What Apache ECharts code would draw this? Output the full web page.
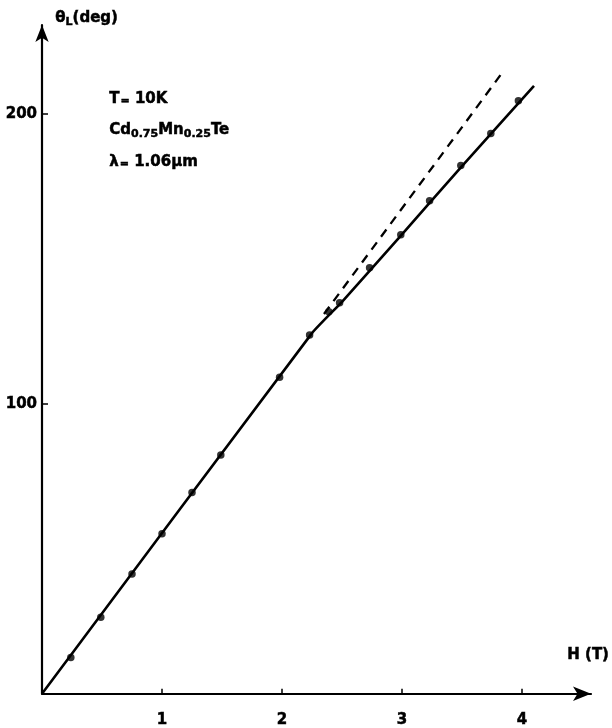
<!DOCTYPE html>
<html>
<head>
<meta charset="utf-8">
<script src="https://cdn.jsdelivr.net/npm/echarts@6/dist/echarts.min.js"></script>
<style>
html,body{margin:0;padding:0;background:#fff;}
#c{width:612px;height:728px;}
</style>
</head>
<body>
<div id="c"></div>
<script>
// Measured points: magnetic field H (T) and Faraday rotation theta_L (deg)
const fieldH = [0.24, 0.49, 0.75, 1.0, 1.25, 1.49, 1.98, 2.23, 2.39, 2.48, 2.73, 2.99, 3.23, 3.49, 3.74, 3.97];
const thetaL = [12.5, 26.4, 41.3, 55.2, 69.4, 82.4, 109.2, 123.8, 131.8, 134.9, 147.0, 158.3, 170.1, 182.2, 193.3, 204.6];
// Solid fitted curve
const fitH = [0, 2.25, 2.5, 3.0, 3.5, 4.1];
const fitTheta = [0, 124.4, 135.2, 158.5, 182.0, 209.7];
// Dashed linear extrapolation
const extH = [2.35, 3.82];
const extTheta = [131.0, 213.4];
// Tick labels
const xTicks = [1, 2, 3, 4];
const yTicks = [100, 200];

const FONT = '"DejaVu Sans", sans-serif';
const zip = (a, b) => a.map((v, i) => [v, b[i]]);
const txt = (size, extra) => Object.assign({fontFamily: FONT, fontWeight: 'bold', fontSize: size, fill: '#000',
  stroke: '#000', lineWidth: 0.5}, extra || {});

const chart = echarts.init(document.getElementById('c'), null, {renderer: 'canvas'});
chart.setOption({
  animation: false,
  backgroundColor: '#fff',
  grid: {left: 42, right: 21, top: 25, bottom: 34, containLabel: false},
  xAxis: {
    type: 'value', min: 0, max: 4.575,
    axisLine: {onZero: false, symbol: ['none', 'arrow'], symbolSize: [11, 18], lineStyle: {color: '#000', width: 2.2}},
    axisTick: {show: true, inside: true, length: 5, customValues: xTicks, lineStyle: {color: '#000', width: 1.5}},
    axisLabel: {customValues: xTicks, margin: 19, color: '#000', fontFamily: FONT, fontWeight: 'bold', fontSize: 15,
      textBorderColor: '#000', textBorderWidth: 0.5},
    splitLine: {show: false}
  },
  yAxis: {
    type: 'value', min: 0, max: 230.7,
    axisLine: {onZero: false, symbol: ['none', 'arrow'], symbolSize: [10, 17], lineStyle: {color: '#000', width: 2.2}},
    axisTick: {show: true, inside: true, length: 6, customValues: yTicks, lineStyle: {color: '#000', width: 1.5}},
    axisLabel: {customValues: yTicks, margin: 5, color: '#000', fontFamily: FONT, fontWeight: 'bold', fontSize: 15,
      textBorderColor: '#000', textBorderWidth: 0.5},
    splitLine: {show: false}
  },
  series: [
    {type: 'line', data: zip(fitH, fitTheta), showSymbol: false, smooth: 0.15,
     lineStyle: {color: '#000', width: 2.6}, z: 2},
    {type: 'line', data: zip(extH, extTheta), showSymbol: false,
     lineStyle: {color: '#000', width: 2.3, type: [9, 7]}, z: 2},
    {type: 'scatter', data: zip(fieldH, thetaL), symbol: 'circle', symbolSize: 7.5,
     itemStyle: {color: '#000'}, z: 3}
  ],
  graphic: [
    {type: 'text', left: 55, top: 10, style: {
      text: '{a|θ}{s|L}{a|(deg)}', fill: '#000',
      rich: {a: txt(15), s: txt(11, {padding: [8, 0, 0, 0]})}
    }},
    {type: 'text', left: 567, top: 647, style: Object.assign({text: 'H (T)'}, txt(15))},
    {type: 'text', left: 109, top: 91, style: {
      text: '{a|T}{e|=}{a| 10K}', fill: '#000',
      rich: {a: txt(15), e: txt(11, {padding: [5, 0, 0, 1]})}
    }},
    {type: 'text', left: 109, top: 122, style: {
      text: '{a|Cd}{s|0.75}{a|Mn}{s|0.25}{a|Te}', fill: '#000',
      rich: {a: txt(15), s: txt(11, {padding: [8, 0, 0, 0]})}
    }},
    {type: 'text', left: 109, top: 154, style: {
      text: '{a|λ}{e|=}{a| 1.06μm}', fill: '#000',
      rich: {a: txt(15), e: txt(11, {padding: [5, 0, 0, 1]})}
    }}
  ]
});
</script>
</body>
</html>
